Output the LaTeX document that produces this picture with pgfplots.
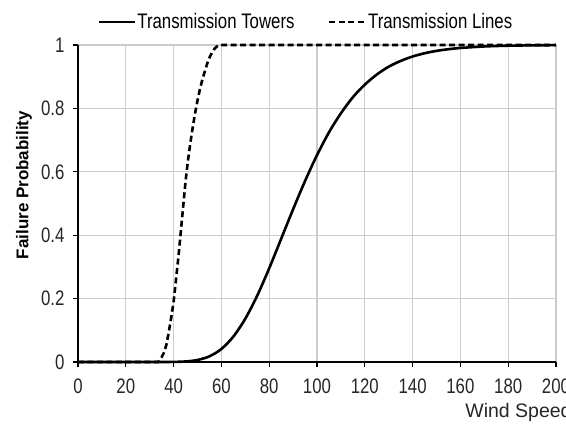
\documentclass[border=0pt]{standalone}
\usepackage{fontspec}
\setmainfont{Liberation Sans}[FakeStretch=0.8]
\newfontfamily\widesans{Liberation Sans}
\usepackage{pgfplots}
\pgfplotsset{compat=1.18}

% Failure probability of towers
\pgfplotstableread{
x y
0 0
20 0
35 0
40 0.0003
45 0.0017
50 0.0063
55 0.0179
60 0.0411
65 0.0801
70 0.1366
75 0.2095
80 0.2955
85 0.3886
90 0.4817
95 0.5710
100 0.6525
105 0.7244
110 0.7845
115 0.8352
120 0.8749
125 0.9067
130 0.9316
135 0.9497
140 0.9637
145 0.9739
150 0.9814
155 0.9867
160 0.9906
170 0.9954
180 0.9978
190 0.9989
200 0.9995
}\towers

% Failure probability of lines
\pgfplotstableread{
x y
0 0
33.5 0
34 0.004
35 0.015
36 0.03
37 0.055
38 0.095
39 0.14
40 0.19
41 0.26
42 0.33
43 0.41
44 0.49
45 0.57
46 0.635
47 0.69
48 0.74
49 0.785
50 0.825
51 0.86
52 0.89
53 0.915
54 0.94
55 0.96
56 0.975
57 0.987
58 0.995
59 0.999
60 1
200 1
}\lines

\begin{document}
\begin{tikzpicture}
\begin{axis}[
  scale only axis, width=478pt, height=317pt,
  xmin=0, xmax=200, ymin=0, ymax=1,
  clip=false,
  xtick={0,20,40,60,80,100,120,140,160,180,200},
  ytick={0,0.2,0.4,0.6,0.8,1},
  yticklabels={0,0.2,0.4,0.6,0.8,1},
  axis x line*=bottom, axis y line*=left,
  axis line style={line width=1.8pt, black},
  tick align=outside, major tick length=5pt,
  tick style={line width=1.3pt, black},
  grid=major, grid style={line width=1.3pt, gray!40},
  ticklabel style={font=\fontsize{21}{25}\selectfont, color=black!85},
  xticklabel style={yshift=-8pt},
  yticklabel style={xshift=-5pt},
  /pgf/number format/assume math mode=true,
  xlabel={Wind Speed},
  xlabel style={at={(rel axis cs:0.803,0)}, anchor=base west, yshift=-56pt,
    font=\widesans\fontsize{19.5}{23}\selectfont, color=black!85},
  legend style={at={(rel axis cs:0.476,1)}, anchor=center, yshift=23pt,
    draw=none, fill=none, font=\fontsize{21}{25}\selectfont,
    nodes={inner xsep=1.5pt},
    legend columns=2,
    /tikz/every even column/.append style={column sep=32pt}},
  legend image code/.code={\draw[#1] (0pt,0pt) -- (36pt,0pt);},
]
\addplot[black, line width=2.6pt, smooth] table {\towers};
\addlegendentry{Transmission Towers}
\addplot[black, line width=2.6pt, dash pattern=on 6pt off 3.5pt] table {\lines};
\addlegendentry{Transmission Lines}
\node[rotate=90, anchor=center, font=\widesans\bfseries\fontsize{17}{20}\selectfont]
  at (rel axis cs:-0.113,0.558) {Failure Probability};
\coordinate (O) at (rel axis cs:0,0);
\end{axis}
\pgfresetboundingbox
\path (O) ++(-78pt,-63pt) rectangle ++(566pt,425pt);
\end{tikzpicture}
\end{document}
